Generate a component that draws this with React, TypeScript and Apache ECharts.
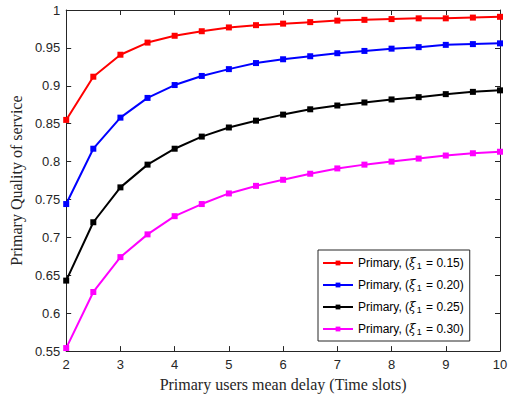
import React, { useEffect, useRef } from "react";
import * as echarts from "echarts";

const xValues = [2, 2.5, 3, 3.5, 4, 4.5, 5, 5.5, 6, 6.5, 7, 7.5, 8, 8.5, 9, 9.5, 10];
const xiLabels = ["0.15", "0.20", "0.25", "0.30"];
const seriesColors = ["#ff0000", "#0000ff", "#000000", "#ff00ff"];
const red = [0.855, 0.912, 0.941, 0.957, 0.966, 0.972, 0.977, 0.980, 0.982, 0.984, 0.986, 0.987, 0.988, 0.989, 0.989, 0.990, 0.991];
const blue = [0.744, 0.817, 0.858, 0.884, 0.901, 0.913, 0.922, 0.930, 0.935, 0.939, 0.943, 0.946, 0.949, 0.951, 0.954, 0.955, 0.956];
const black = [0.643, 0.720, 0.766, 0.796, 0.817, 0.833, 0.845, 0.854, 0.862, 0.869, 0.874, 0.878, 0.882, 0.885, 0.889, 0.892, 0.894];
const magenta = [0.554, 0.628, 0.674, 0.704, 0.728, 0.744, 0.758, 0.768, 0.776, 0.784, 0.791, 0.796, 0.800, 0.804, 0.808, 0.811, 0.813];
const allSeries = [red, blue, black, magenta];
const xTicks = [2, 3, 4, 5, 6, 7, 8, 9, 10];
const yTicks = [0.55, 0.6, 0.65, 0.7, 0.75, 0.8, 0.85, 0.9, 0.95, 1];

export default function App() {
  const ref = useRef<HTMLDivElement>(null);
  useEffect(() => {
    if (!ref.current) return;
    const chart = echarts.init(ref.current, undefined, { renderer: "svg" });
    const axisColor = "#262626";
    const sans = "'Liberation Sans', Arial, sans-serif";
    const serif = "'Liberation Serif', 'Times New Roman', serif";
    const names = xiLabels.map((v) => `Primary, (ξ1 = ${v})`);
    const baseX = {
      type: "value" as const,
      min: 2,
      max: 10,
      interval: 1,
      splitLine: { show: false },
      axisLine: { show: true, onZero: false, lineStyle: { color: axisColor, width: 1 } },
      axisTick: { show: true, inside: true, length: 5, lineStyle: { color: axisColor } },
    };
    const baseY = {
      type: "value" as const,
      min: 0.55,
      max: 1,
      interval: 0.05,
      splitLine: { show: false },
      axisLine: { show: true, onZero: false, lineStyle: { color: axisColor, width: 1 } },
      axisTick: { show: true, inside: true, length: 5, lineStyle: { color: axisColor } },
    };
    chart.setOption({
      animation: false,
      backgroundColor: "#ffffff",
      grid: { left: 66, right: 13, top: 10, bottom: 45, containLabel: false },
      xAxis: [
        {
          ...baseX,
          position: "bottom",
          name: "Primary users mean delay (Time slots)",
          nameLocation: "middle",
          nameGap: 21,
          nameTextStyle: { fontFamily: serif, fontSize: 16, color: "#262626" },
          axisLabel: {
            fontFamily: sans,
            fontSize: 13,
            color: "#262626",
            margin: 7,
            formatter: (v: number) => (xTicks.includes(v) ? String(v) : ""),
          },
        },
        { ...baseX, position: "top", axisLabel: { show: false } },
      ],
      yAxis: [
        {
          ...baseY,
          position: "left",
          name: "Primary Quality of service",
          nameLocation: "middle",
          nameGap: 36,
          nameTextStyle: { fontFamily: serif, fontSize: 16, color: "#262626" },
          axisLabel: {
            fontFamily: sans,
            fontSize: 13,
            color: "#262626",
            margin: 6,
            formatter: (v: number) => {
              const r = Math.round(v * 100) / 100;
              const match = yTicks.find((t) => Math.abs(t - r) < 1e-6);
              return match === undefined ? "" : String(match);
            },
          },
        },
        { ...baseY, position: "right", axisLabel: { show: false } },
      ],
      legend: {
        orient: "vertical",
        left: 318,
        top: 250,
        padding: [5, 6, 5, 4],
        itemGap: 7,
        itemWidth: 30,
        itemHeight: 6,
        backgroundColor: "#ffffff",
        borderColor: axisColor,
        borderWidth: 1,
        borderRadius: 0,
        data: names,
        formatter: (name: string) => {
          const v = name.match(/= (.*)\)/)?.[1] ?? "";
          return `{t|Primary, (}{x|ξ}{s|1}{t| = ${v})}`;
        },
        textStyle: {
          fontFamily: sans,
          fontSize: 12,
          color: "#000",
          lineHeight: 14,
          rich: {
            t: { fontFamily: sans, fontSize: 12, color: "#000", lineHeight: 14 },
            x: { fontFamily: "'DejaVu Serif', serif", fontStyle: "italic", fontSize: 12, color: "#000", lineHeight: 14 },
            s: { fontFamily: sans, fontSize: 9, color: "#000", lineHeight: 14, verticalAlign: "bottom", padding: [6, 1, 0, 1] },
          },
        },
      },
      series: allSeries.map((data, i) => ({
        name: names[i],
        type: "line",
        xAxisIndex: 0,
        yAxisIndex: 0,
        data: data.map((y, j) => [xValues[j], y]),
        symbol: "rect",
        symbolSize: 6,
        color: seriesColors[i],
        lineStyle: { width: 2, color: seriesColors[i] },
        itemStyle: { color: seriesColors[i] },
        clip: false,
      })),
    });
    return () => chart.dispose();
  }, []);
  return <div ref={ref} style={{ position: "fixed", left: 0, top: 0, width: 513, height: 397 }} />;
}
